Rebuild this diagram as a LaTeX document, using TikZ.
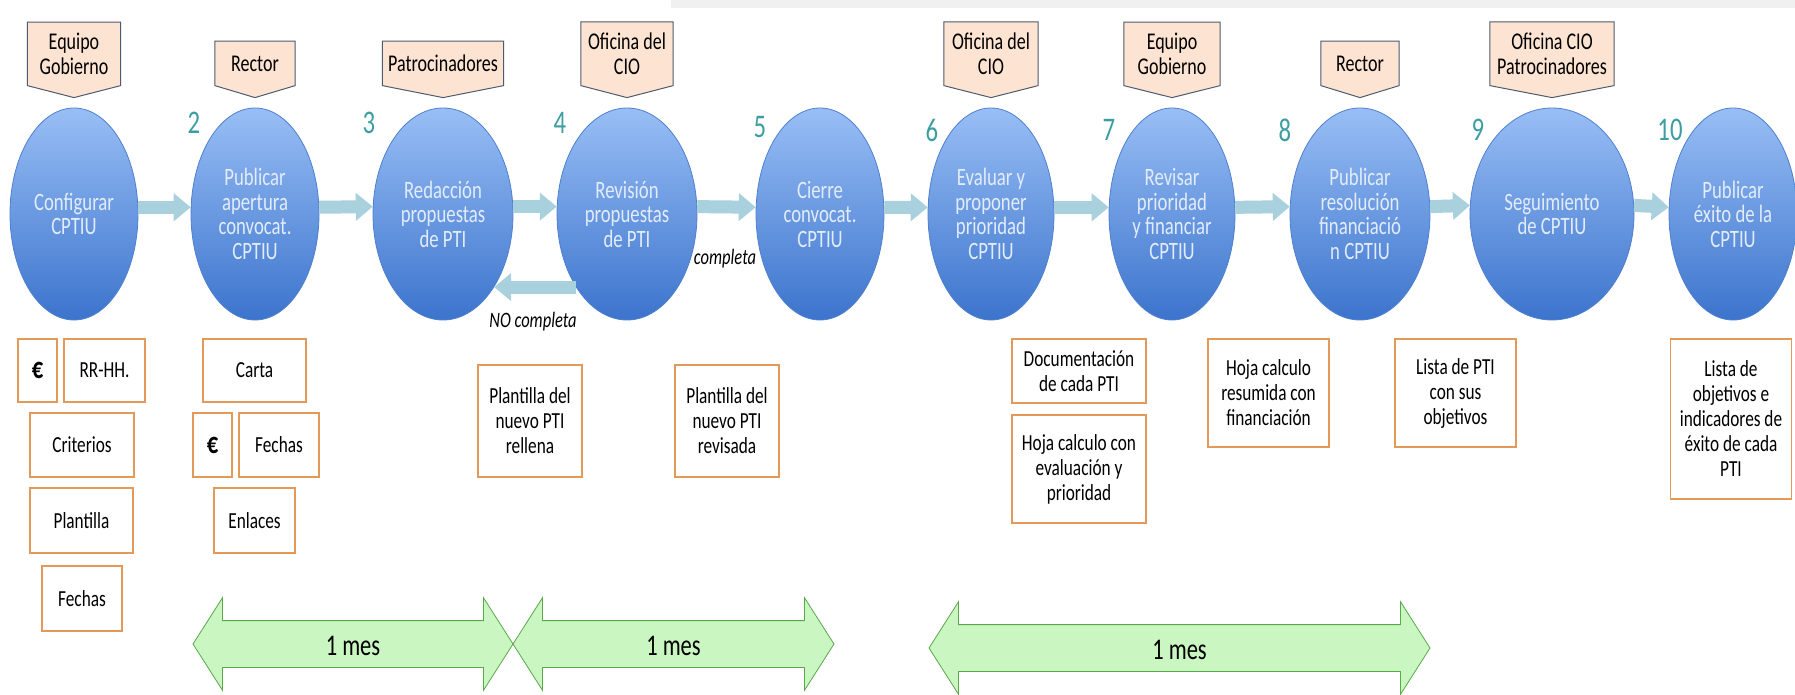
\documentclass[tikz,border=0pt]{standalone}
\usepackage{fontspec}
\setmainfont{Carlito}[FakeStretch=0.75]
\usepackage{tikz}
\usetikzlibrary{positioning}
\usetikzlibrary{shapes.geometric}
\usetikzlibrary{shapes.arrows}
\usetikzlibrary{arrows.meta}
\definecolor{circtop}{HTML}{98BEF5}
\definecolor{circbot}{HTML}{3C74CC}
\definecolor{circline}{HTML}{4F80CF}
\definecolor{circtext}{HTML}{E2ECFB}
\definecolor{numteal}{HTML}{3C9EA0}
\definecolor{flowblue}{HTML}{A8D0DD}
\definecolor{tagfill}{HTML}{FDE4D2}
\definecolor{tagline}{HTML}{4E5A6E}
\definecolor{docline}{HTML}{E39A58}
\definecolor{monthfill}{HTML}{C9F6C1}
\definecolor{monthline}{HTML}{5AA84A}
\pgfdeclarelayer{back}
\pgfsetlayers{back,main}
\newcommand{\tikzRoleTag}[4][]{%
  \node[roletag,#1,above=22pt of #3] (#2) {#4};
  \begin{pgfonlayer}{back}
    \filldraw[tagstyle] (#2.north west) -- (#2.north east) -- (#2.south east) -- ([yshift=-12pt]#2.south) -- (#2.south west) -- cycle;
  \end{pgfonlayer}}

\begin{document}
\begin{tikzpicture}[x=1pt,y=-1pt,
    stepcirc/.style={ellipse, draw=circline, line width=0.8pt, top color=circtop, bottom color=circbot, minimum height=212pt, inner sep=0pt, align=center, text=circtext, font=\fontsize{25}{24.5}\selectfont},
    stepnum/.style={text=numteal, inner sep=0pt, font=\fontsize{33}{35}\selectfont},
    roletag/.style={align=center, minimum height=44pt, inner ysep=10.5pt, inner xsep=2pt, font=\fontsize{24}{25.5}\selectfont},
    tagstyle/.style={fill=tagfill, draw=tagline, line width=1pt},
    docbox/.style={draw=docline, line width=1.3pt, fill=white, align=center, inner sep=1pt, font=\fontsize{23}{25}\selectfont},
    eurobox/.style={docbox, font=\fontsize{30}{32}\selectfont\bfseries},
    flowarr/.style={draw=flowblue, line width=13pt, -{Triangle[width=27pt,length=17pt]}},
    flowlbl/.style={inner sep=0pt, font=\fontsize{22}{24}\selectfont\itshape},
    montharr/.style={double arrow, double arrow head extend=23pt, double arrow tip angle=115, draw=monthline, fill=monthfill, line width=0.8pt, minimum width=92pt, text height=22pt, text depth=0pt, inner ysep=12pt, font=\fontsize{30}{32}\selectfont}]
  \useasboundingbox (0,0) rectangle (1795,694);
  \fill[black!6] (671,0) rectangle (1795,8);

  \node[stepcirc, minimum width=128pt] (c1) at (74,214) {Configurar\\CPTIU};
  \node[stepcirc, minimum width=128pt] (c2) at (255,214) {Publicar\\apertura\\convocat.\\CPTIU};
  \node[stepcirc, minimum width=140pt] (c3) at (443,214) {Redacción\\propuestas\\de PTI};
  \node[stepcirc, minimum width=140pt] (c4) at (627,214) {Revisión\\propuestas\\de PTI};
  \node[stepcirc, minimum width=128pt] (c5) at (820,214) {Cierre\\convocat.\\CPTIU};
  \node[stepcirc, minimum width=126pt] (c6) at (991,214) {Evaluar y\\proponer\\prioridad\\CPTIU};
  \node[stepcirc, minimum width=126pt] (c7) at (1172,214) {Revisar\\prioridad\\y financiar\\CPTIU};
  \node[stepcirc, minimum width=140pt] (c8) at (1360,214) {Publicar\\resolución\\financiació\\n CPTIU};
  \node[stepcirc, minimum width=164pt] (c9) at (1552,214) {Seguimiento\\de CPTIU};
  \node[stepcirc, minimum width=128pt] (c10) at (1733,214) {Publicar\\éxito de la\\CPTIU};

  \foreach \n/\x/\y in {2/194/123, 3/369/123, 4/560/123, 5/760/127, 6/932/130, 7/1109/130, 8/1285/130, 9/1478/130, 10/1670/130}
    \node[stepnum] (n\n) at (\x,\y) {\n};

  \foreach \a/\b in {1/2, 2/3, 3/4, 4/5, 5/6, 6/7, 7/8, 8/9, 9/10}
    \draw[flowarr] (c\a.6) -- (c\b.174);
  \draw[flowarr] (c4.235) -- (c3.-55);
  \node[flowlbl] (ok) at (725,259) {completa};
  \node[flowlbl] (notok) at (533,322) {NO completa};

  \tikzRoleTag[minimum width=93pt]{t1}{c1}{Equipo\\Gobierno}
  \tikzRoleTag[minimum width=80pt]{t2}{c2}{Rector}
  \tikzRoleTag[minimum width=121pt]{t3}{c3}{Patrocinadores}
  \tikzRoleTag[minimum width=92pt]{t4}{c4}{Oficina del\\CIO}
  \tikzRoleTag[minimum width=94pt]{t6}{c6}{Oficina del\\CIO}
  \tikzRoleTag[minimum width=96pt]{t7}{c7}{Equipo\\Gobierno}
  \tikzRoleTag[minimum width=78pt]{t8}{c8}{Rector}
  \tikzRoleTag[minimum width=124pt]{t9}{c9}{Oficina CIO\\Patrocinadores}

  \node[eurobox, minimum width=39pt, minimum height=63pt] (eur1) at (37.5,370.5) {€};
  \node[docbox, minimum width=81pt, minimum height=63pt] (rrhh) at (104.5,370.5) {RR-HH.};
  \node[docbox, minimum width=104pt, minimum height=64pt] (crit) at (82,445) {Criterios};
  \node[docbox, minimum width=103pt, minimum height=65pt] (plant) at (81.5,520.5) {Plantilla};
  \node[docbox, minimum width=80pt, minimum height=65pt] (fech1) at (82,598.5) {Fechas};
  \node[docbox, minimum width=103pt, minimum height=63pt] (carta) at (254.5,370.5) {Carta};
  \node[eurobox, minimum width=39pt, minimum height=64pt] (eur2) at (212.5,445) {€};
  \node[docbox, minimum width=80pt, minimum height=64pt] (fech2) at (279,445) {Fechas};
  \node[docbox, minimum width=81pt, minimum height=65pt] (enl) at (254.5,520.5) {Enlaces};
  \node[docbox, minimum width=104pt, minimum height=112pt] (rell) at (530,421) {Plantilla del\\nuevo PTI\\rellena};
  \node[docbox, minimum width=104pt, minimum height=112pt] (revi) at (727,421) {Plantilla del\\nuevo PTI\\revisada};
  \node[docbox, minimum width=134pt, minimum height=64pt] (docu) at (1079,371) {Documentación\\de cada PTI};
  \node[docbox, minimum width=134pt, minimum height=108pt] (hojaev) at (1079,469) {Hoja calculo con\\evaluación y\\prioridad};
  \node[docbox, minimum width=121pt, minimum height=108pt] (hojafin) at (1268.5,393) {Hoja calculo\\resumida con\\financiación};
  \node[docbox, minimum width=121pt, minimum height=108pt] (lista) at (1455.5,393) {Lista de PTI\\con sus\\objetivos};
  \node[docbox, minimum width=121pt, minimum height=160pt] (listobj) at (1731,419) {Lista de\\objetivos e\\indicadores de\\éxito de cada\\PTI};

  \node[montharr, minimum height=320pt] (m1) at (353,644) {1 mes};
  \node[montharr, minimum height=321pt] (m2) at (673.5,644) {1 mes};
  \node[montharr, minimum height=501pt] (m3) at (1179.5,648) {1 mes};
\end{tikzpicture}
\end{document}
